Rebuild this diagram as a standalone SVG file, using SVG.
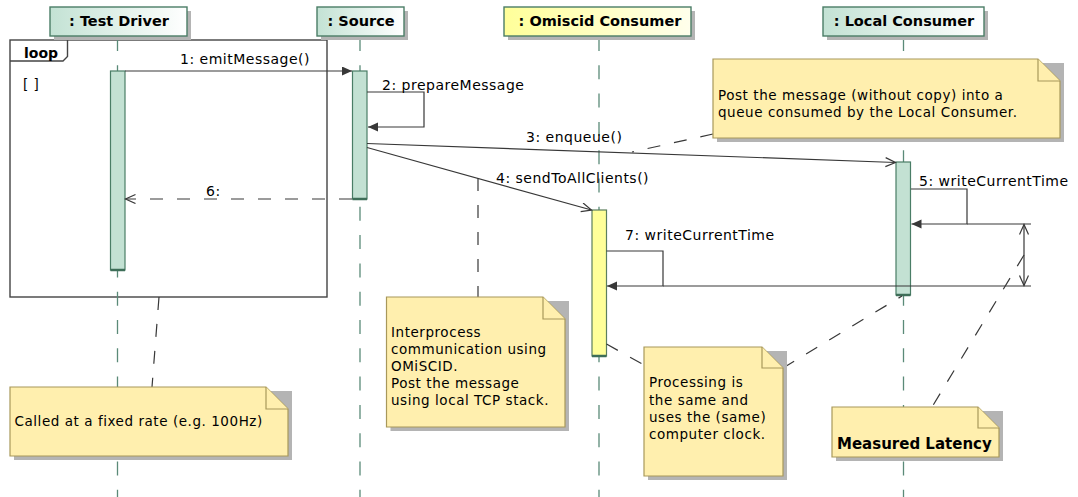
<svg xmlns="http://www.w3.org/2000/svg" width="1078" height="497" viewBox="0 0 1078 497">
<style>
text{font-family:"DejaVu Sans","Liberation Sans",sans-serif;fill:#000}
.hd{font-size:14.5px;font-weight:bold;text-anchor:middle}
.msg{font-size:14px;letter-spacing:0.5px}
.nt{font-size:13.5px;letter-spacing:0.55px}
.life{stroke:#5A8A78;stroke-width:1.3;stroke-dasharray:14,14.3;fill:none}
.hbox{stroke:#4A7D66;stroke-width:1.4}
.shadow{fill:#B4B4B4}
.act{fill:#C3E1D3;stroke:#4A7D66;stroke-width:1.2}
.acty{fill:#FFFF99;stroke:#5B7F5E;stroke-width:1.2}
.abot{stroke:#3E6E58;stroke-width:2.5}
.m{stroke:#383838;stroke-width:1.2;fill:none}
.dash{stroke:#383838;stroke-width:1.2;fill:none;stroke-dasharray:13,14}
.note{fill:#FFEFAE;stroke:#A8985A;stroke-width:1.2}
.frame{fill:none;stroke:#444;stroke-width:1.4}
</style>
<defs>
<linearGradient id="gG" x1="0" y1="0" x2="1" y2="0"><stop offset="0" stop-color="#C3E2D4"/><stop offset="1" stop-color="#FFFFFF"/></linearGradient>
<linearGradient id="gY" x1="0" y1="0" x2="1" y2="0"><stop offset="0" stop-color="#FFFF99"/><stop offset="1" stop-color="#FFFFEC"/></linearGradient>
<marker id="af" markerUnits="userSpaceOnUse" markerWidth="12" markerHeight="10" refX="10" refY="4.5" orient="auto"><path d="M0,0 L10,4.5 L0,9 z" fill="#383838"/></marker>
<marker id="ao" markerUnits="userSpaceOnUse" markerWidth="12" markerHeight="12" refX="10.5" refY="5" orient="auto-start-reverse"><path d="M0.5,0.5 L10.5,5 L0.5,9.5" fill="none" stroke="#383838" stroke-width="1.2"/></marker>
</defs>
<rect width="1078" height="497" fill="#FFFFFF"/>

<!-- loop frame -->
<g id="loop">
<rect class="frame" x="10" y="40" width="317" height="257"/>
<path class="frame" d="M10,61 H63 L67.5,56.5 V40"/>
<text x="24" y="58" style="font-size:14px;font-weight:bold">loop</text>
<text x="23" y="89" style="font-size:13.5px;letter-spacing:0.5px">[ ]</text>
</g>

<!-- lifelines -->
<g id="lifelines">
<line class="life" x1="117.5" y1="37" x2="117.5" y2="497"/>
<line class="life" x1="360" y1="37" x2="360" y2="497"/>
<line class="life" x1="599" y1="37" x2="599" y2="497"/>
<line class="life" x1="903.5" y1="37" x2="903.5" y2="497"/>
</g>

<!-- participants -->
<g id="test-driver">
<rect class="shadow" x="54" y="11" width="137" height="29"/>
<rect class="hbox" x="50" y="7" width="137" height="29" fill="url(#gG)"/>
<text class="hd" x="119" y="26">: Test Driver</text>
</g>
<g id="source">
<rect class="shadow" x="321" y="11" width="87" height="29"/>
<rect class="hbox" x="317" y="7" width="87" height="29" fill="url(#gG)"/>
<text class="hd" x="361" y="26">: Source</text>
</g>
<g id="omiscid-consumer">
<rect class="shadow" x="508" y="11" width="187" height="29"/>
<rect class="hbox" x="504" y="7" width="187" height="29" fill="url(#gY)"/>
<text class="hd" x="600" y="26">: Omiscid Consumer</text>
</g>
<g id="local-consumer">
<rect class="shadow" x="827" y="11" width="161" height="29"/>
<rect class="hbox" x="823" y="7" width="161" height="29" fill="url(#gG)"/>
<text class="hd" x="904" y="26">: Local Consumer</text>
</g>

<!-- activations -->
<g id="act-test-driver">
<rect class="act" x="110.5" y="71" width="14.5" height="199"/>
<line class="abot" x1="110.5" y1="270" x2="125" y2="270"/>
</g>
<g id="act-source">
<rect class="act" x="352.5" y="71" width="14.5" height="128"/>
<line class="abot" x1="352.5" y1="199" x2="367" y2="199"/>
</g>
<g id="act-omiscid">
<rect class="acty" x="592" y="210" width="14.5" height="146"/>
<line class="abot" x1="592" y1="356" x2="606.5" y2="356"/>
</g>
<g id="act-local">
<rect class="act" x="896" y="162" width="14.5" height="133"/>
<line class="abot" x1="896" y1="295" x2="910.5" y2="295"/>
</g>

<!-- connectors -->
<g id="connectors">
<line class="m" x1="125" y1="71" x2="352" y2="71" marker-end="url(#af)"/>
<path class="m" d="M367,92 H424 V127 H368" marker-end="url(#af)"/>
<line class="m" x1="367" y1="143.5" x2="895.5" y2="162.5" marker-end="url(#ao)"/>
<line class="m" x1="367" y1="147.5" x2="591.5" y2="210" marker-end="url(#ao)"/>
<path class="m" d="M911,189 H967 V224 H911.5" marker-end="url(#af)"/>
<line class="m" x1="967" y1="224" x2="1031" y2="224"/>
<line class="dash" x1="352" y1="199" x2="125.5" y2="199" marker-end="url(#ao)"/>
<path class="m" d="M606.5,251 H663 V286 H607" marker-end="url(#af)"/>
<line class="m" x1="663" y1="286" x2="1031" y2="286"/>
<line class="m" x1="1024" y1="224.5" x2="1024" y2="285.5" marker-start="url(#ao)" marker-end="url(#ao)"/>
<!-- note links -->
<line class="dash" x1="713" y1="134" x2="632" y2="152"/>
<line class="dash" x1="478" y1="178" x2="478" y2="297"/>
<line class="dash" x1="159" y1="297" x2="152" y2="387"/>
<line class="dash" x1="606.5" y1="344" x2="644" y2="365"/>
<line class="dash" x1="783" y1="368" x2="902" y2="296"/>
<line class="dash" x1="1024" y1="255" x2="932" y2="407"/>
</g>

<!-- message labels -->
<g id="labels">
<text class="msg" x="180" y="64">1: emitMessage()</text>
<text class="msg" x="382" y="90">2: prepareMessage</text>
<text class="msg" x="526" y="142">3: enqueue()</text>
<text class="msg" x="496" y="183">4: sendToAllClients()</text>
<text class="msg" x="919" y="186">5: writeCurrentTime</text>
<text class="msg" x="206" y="196">6:</text>
<text class="msg" x="625" y="240">7: writeCurrentTime</text>
</g>

<!-- notes -->
<g id="note-post">
<path class="shadow" d="M717,63 H1064 V142 H717 z"/>
<path class="note" d="M713,59 H1038 L1060,81 V138 H713 z"/>
<path class="note" d="M1038,59 V81 H1060" fill="none"/>
<text class="nt" x="718" y="100">Post the message (without copy) into a</text>
<text class="nt" x="718" y="117">queue consumed by the Local Consumer.</text>
</g>
<g id="note-interprocess">
<path class="shadow" d="M390.5,301 H569 V431 H390.5 z"/>
<path class="note" d="M386.5,297 H543 L565,319 V427 H386.5 z"/>
<path class="note" d="M543,297 V319 H565" fill="none"/>
<text class="nt" x="391" y="337">Interprocess</text>
<text class="nt" x="391" y="354">communication using</text>
<text class="nt" x="391" y="371">OMiSCID.</text>
<text class="nt" x="391" y="388">Post the message</text>
<text class="nt" x="391" y="405">using local TCP stack.</text>
</g>
<g id="note-called">
<path class="shadow" d="M14,391 H292 V460 H14 z"/>
<path class="note" d="M10,387 H266 L288,409 V456 H10 z"/>
<path class="note" d="M266,387 V409 H288" fill="none"/>
<text class="nt" x="14.5" y="426">Called at a fixed rate (e.g. 100Hz)</text>
</g>
<g id="note-processing">
<path class="shadow" d="M648,351 H787 V480 H648 z"/>
<path class="note" d="M644,347 H762 L783,368 V476 H644 z"/>
<path class="note" d="M762,347 V368 H783" fill="none"/>
<text class="nt" x="649" y="387">Processing is</text>
<text class="nt" x="649" y="405">the same and</text>
<text class="nt" x="649" y="422">uses the (same)</text>
<text class="nt" x="649" y="439">computer clock.</text>
</g>
<g id="note-latency">
<path class="shadow" d="M836,411 H1003 V461 H836 z"/>
<path class="note" d="M832,407 H978 L999,428 V457 H832 z"/>
<path class="note" d="M978,407 V428 H999" fill="none"/>
<text x="837" y="449" style="font-size:15px;font-weight:bold">Measured Latency</text>
</g>
</svg>
